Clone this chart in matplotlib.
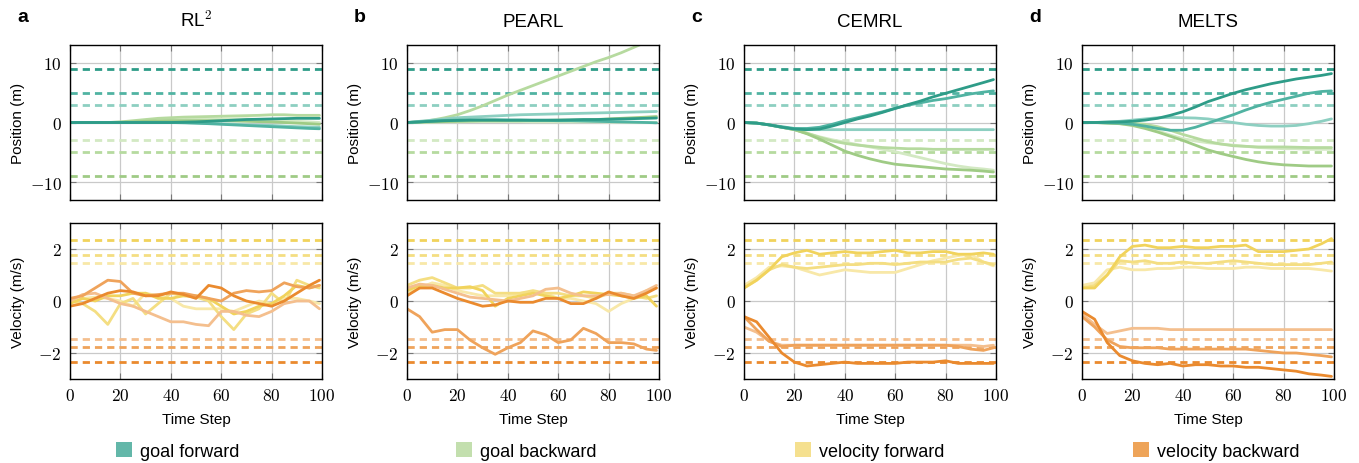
import matplotlib
matplotlib.use('Agg')
import matplotlib.pyplot as plt
from matplotlib.ticker import FixedLocator, FuncFormatter
from matplotlib.patches import Patch

plt.rcParams['font.family'] = ['Liberation Sans', 'DejaVu Sans']
plt.rcParams['mathtext.fontset'] = 'cm'

# ---------------- data ----------------
steps = [0, 5, 10, 15, 20, 25, 30, 35, 40, 45, 50, 55, 60, 65, 70, 75, 80, 85, 90, 95, 99]
methods = ['RL$^2$', 'PEARL', 'CEMRL', 'MELTS']
panel_letters = ['a', 'b', 'c', 'd']

goal_fwd_targets = [9, 5, 3]
goal_bwd_targets = [-9, -5, -3]
vel_fwd_targets = [2.36, 1.77, 1.47]
vel_bwd_targets = [-2.36, -1.77, -1.47]

# position curves (dark, medium, light)
rl2_goal_fwd = [
    [0, 0, 0, 0, 0, 0, 0, 0, 0, 0.05, 0.1, 0.2, 0.3, 0.4, 0.5, 0.55, 0.6, 0.65, 0.7, 0.7, 0.7],
    [0, 0, 0, 0, 0, 0, 0, 0, 0, -0.05, -0.1, -0.2, -0.3, -0.4, -0.5, -0.6, -0.7, -0.8, -0.9, -1.0, -1.05],
    [0, 0, 0, 0, 0, 0, 0, 0, 0, 0, -0.1, -0.15, -0.2, -0.3, -0.4, -0.45, -0.5, -0.6, -0.7, -0.75, -0.8],
]
rl2_goal_bwd = [
    [0, 0, 0, 0, 0.05, 0.1, 0.2, 0.25, 0.3, 0.3, 0.3, 0.3, 0.3, 0.25, 0.2, 0.15, 0.1, 0.0, -0.1, -0.2, -0.3],
    [0, 0, 0, 0, 0.1, 0.3, 0.5, 0.7, 0.8, 0.9, 0.95, 1.0, 1.05, 1.1, 1.15, 1.2, 1.3, 1.3, 1.2, 1.2, 1.2],
    [0, 0, 0, 0, 0, 0.1, 0.2, 0.3, 0.4, 0.5, 0.6, 0.6, 0.6, 0.6, 0.6, 0.5, 0.4, 0.3, 0.2, 0.1, 0.0],
]
pearl_goal_fwd = [
    [0, 0.1, 0.2, 0.3, 0.35, 0.4, 0.4, 0.4, 0.4, 0.4, 0.4, 0.4, 0.4, 0.45, 0.5, 0.5, 0.55, 0.6, 0.65, 0.7, 0.75],
    [0, 0.1, 0.25, 0.35, 0.4, 0.45, 0.45, 0.45, 0.4, 0.4, 0.35, 0.35, 0.3, 0.3, 0.25, 0.2, 0.15, 0.1, 0.05, 0.0, -0.05],
    [0, 0.2, 0.4, 0.6, 0.8, 0.9, 1.0, 1.1, 1.2, 1.3, 1.35, 1.4, 1.45, 1.5, 1.55, 1.6, 1.65, 1.7, 1.75, 1.8, 1.85],
]
pearl_goal_bwd = [
    [0, 0.05, 0.1, 0.15, 0.2, 0.25, 0.3, 0.3, 0.3, 0.3, 0.35, 0.35, 0.4, 0.4, 0.45, 0.5, 0.6, 0.7, 0.8, 0.9, 1.0],
    [0, 0.1, 0.4, 0.8, 1.3, 2.0, 2.8, 3.7, 4.6, 5.4, 6.2, 7.0, 7.8, 8.6, 9.4, 10.2, 10.9, 11.7, 12.6, 13.5, 14.4],
    [0, 0, 0.05, 0.1, 0.1, 0.15, 0.15, 0.15, 0.15, 0.15, 0.1, 0.1, 0.1, 0.1, 0.1, 0.1, 0.05, 0.05, 0, 0, 0],
]
cemrl_goal_fwd = [
    [0, -0.1, -0.4, -0.8, -1.1, -1.2, -1.1, -0.6, 0.0, 0.6, 1.1, 1.7, 2.35, 3.0, 3.6, 4.3, 4.9, 5.5, 6.1, 6.7, 7.2],
    [0, -0.1, -0.4, -0.7, -1.0, -1.0, -0.8, -0.3, 0.3, 0.8, 1.3, 1.8, 2.4, 2.9, 3.3, 3.7, 4.0, 4.4, 4.8, 5.1, 5.3],
    [0, -0.1, -0.4, -0.8, -1.1, -1.2, -1.2, -1.2, -1.2, -1.2, -1.2, -1.2, -1.2, -1.2, -1.2, -1.2, -1.2, -1.2, -1.2, -1.2, -1.2],
]
cemrl_goal_bwd = [
    [0, -0.1, -0.4, -0.8, -1.2, -1.9, -2.8, -3.8, -4.8, -5.5, -6.1, -6.6, -7.0, -7.2, -7.4, -7.6, -7.8, -7.9, -8.0, -8.15, -8.3],
    [0, -0.1, -0.4, -0.8, -1.2, -1.8, -2.5, -3.1, -3.5, -3.8, -4.0, -4.2, -4.3, -4.4, -4.4, -4.5, -4.5, -4.5, -4.5, -4.5, -4.5],
    [0, -0.1, -0.4, -0.8, -1.2, -1.8, -2.4, -2.9, -3.3, -3.7, -4.1, -4.5, -4.9, -5.4, -5.9, -6.4, -6.9, -7.3, -7.6, -7.8, -8.0],
]
melts_goal_fwd = [
    [0, 0, 0.05, 0.1, 0.2, 0.4, 0.7, 1.2, 1.8, 2.6, 3.5, 4.2, 4.9, 5.5, 6.0, 6.5, 6.9, 7.3, 7.6, 7.9, 8.2],
    [0, 0, -0.05, -0.1, -0.3, -0.6, -1.0, -1.3, -1.3, -0.8, -0.1, 0.6, 1.3, 2.1, 2.8, 3.4, 3.9, 4.4, 4.9, 5.2, 5.3],
    [0, 0, 0.1, 0.2, 0.4, 0.6, 0.8, 0.85, 0.8, 0.75, 0.6, 0.3, 0.0, -0.3, -0.5, -0.6, -0.6, -0.5, -0.2, 0.2, 0.6],
]
melts_goal_bwd = [
    [0, 0, -0.1, -0.2, -0.5, -1.0, -1.6, -2.3, -3.0, -3.8, -4.6, -5.2, -5.7, -6.2, -6.6, -6.9, -7.1, -7.2, -7.3, -7.3, -7.3],
    [0, 0, 0, 0, -0.1, -0.3, -0.7, -1.3, -2.0, -2.6, -3.2, -3.6, -3.9, -4.0, -4.1, -4.1, -4.1, -4.15, -4.2, -4.2, -4.2],
    [0, 0, -0.1, -0.2, -0.4, -0.8, -1.4, -2.1, -2.7, -3.1, -3.4, -3.6, -3.8, -4.0, -4.2, -4.3, -4.4, -4.4, -4.5, -4.5, -4.5],
]

# velocity curves (dark, medium, light)
rl2_vel_fwd = [
    [-0.1, 0.1, 0.0, 0.2, 0.2, 0.3, 0.3, 0.1, 0.1, 0.2, 0.2, 0.1, -0.2, -0.5, -0.4, -0.2, -0.1, 0.2, 0.6, 0.5, 0.6],
    [0.0, -0.1, -0.4, -0.9, -0.1, 0.1, -0.5, -0.1, 0.3, 0.2, 0.15, 0.0, -0.6, -1.1, -0.5, -0.3, 0.3, -0.1, 0.8, 0.6, 0.5],
    [0.0, 0.1, 0.15, 0.1, 0.0, -0.2, 0.3, 0.2, 0.1, -0.2, -0.3, -0.3, -0.3, -0.4, -0.2, 0.0, -0.1, 0.1, 0.1, 0.0, -0.1],
]
rl2_vel_bwd = [
    [-0.2, -0.1, 0.1, 0.3, 0.4, 0.35, 0.2, 0.2, 0.35, 0.25, 0.1, 0.6, 0.5, 0.2, 0.0, -0.1, -0.2, 0.0, 0.3, 0.6, 0.8],
    [0.1, 0.2, 0.5, 0.8, 0.75, 0.3, 0.2, 0.25, 0.3, 0.3, 0.2, 0.1, 0.0, 0.3, 0.4, 0.35, 0.4, 0.7, 0.55, 0.5, 0.6],
    [0.0, 0.25, 0.3, 0.1, -0.1, -0.2, -0.4, -0.6, -0.8, -0.8, -0.9, -0.95, -0.4, -0.4, -0.55, -0.6, -0.4, -0.1, 0.0, 0.0, -0.3],
]
pearl_vel_fwd = [
    [0.4, 0.6, 0.6, 0.5, 0.5, 0.55, 0.4, -0.2, 0.1, 0.2, 0.3, 0.2, 0.1, 0.2, 0.35, 0.3, 0.25, 0.2, 0.1, 0.2, -0.2],
    [0.6, 0.8, 0.9, 0.7, 0.5, 0.5, 0.6, 0.3, 0.3, 0.3, 0.4, 0.3, 0.3, 0.2, 0.2, 0.1, 0.3, 0.3, 0.2, 0.1, 0.2],
    [0.3, 0.5, 0.7, 0.6, 0.4, 0.3, 0.2, 0.2, 0.2, 0.3, 0.35, 0.3, 0.1, 0.1, 0.0, -0.1, -0.4, -0.1, 0.1, 0.4, 0.5],
]
pearl_vel_bwd = [
    [0.2, 0.5, 0.5, 0.3, 0.1, -0.05, -0.2, -0.15, 0.0, -0.05, -0.05, 0.1, 0.1, -0.1, -0.1, 0.1, 0.35, 0.2, 0.1, 0.3, 0.5],
    [-0.3, -0.6, -1.2, -1.1, -1.1, -1.5, -1.8, -2.05, -1.8, -1.6, -1.15, -1.3, -1.6, -1.5, -1.05, -1.25, -1.6, -1.6, -1.65, -1.85, -1.9],
    [0.5, 0.65, 0.6, 0.45, 0.3, 0.15, 0.1, 0.05, 0.0, 0.1, 0.2, 0.45, 0.5, 0.3, 0.2, 0.2, 0.25, 0.3, 0.2, 0.4, 0.6],
]
cemrl_vel_fwd = [
    [0.5, 0.8, 1.2, 1.7, 1.85, 1.95, 1.8, 1.85, 1.9, 1.85, 1.85, 1.9, 1.95, 1.85, 1.85, 1.9, 1.9, 1.8, 1.8, 1.85, 1.8],
    [0.5, 0.8, 1.2, 1.4, 1.3, 1.25, 1.3, 1.35, 1.4, 1.4, 1.45, 1.45, 1.4, 1.45, 1.5, 1.5, 1.5, 1.6, 1.65, 1.5, 1.4],
    [0.6, 0.9, 1.3, 1.35, 1.3, 1.15, 1.0, 1.1, 1.2, 1.15, 1.1, 1.1, 1.1, 1.25, 1.4, 1.55, 1.65, 1.75, 1.8, 1.5, 1.35],
]
cemrl_vel_bwd = [
    [-0.6, -0.8, -1.4, -2.0, -2.35, -2.5, -2.45, -2.4, -2.35, -2.4, -2.4, -2.4, -2.4, -2.35, -2.35, -2.35, -2.3, -2.4, -2.4, -2.4, -2.4],
    [-0.6, -1.1, -1.55, -1.75, -1.7, -1.7, -1.7, -1.7, -1.7, -1.7, -1.7, -1.7, -1.7, -1.7, -1.7, -1.7, -1.7, -1.75, -1.85, -1.9, -1.8],
    [-1.0, -1.2, -1.55, -1.7, -1.7, -1.7, -1.7, -1.7, -1.7, -1.7, -1.7, -1.7, -1.7, -1.7, -1.7, -1.7, -1.7, -1.7, -1.7, -1.75, -1.7],
]
melts_vel_fwd = [
    [0.5, 0.5, 1.0, 1.7, 2.1, 2.15, 2.05, 2.05, 2.1, 2.05, 2.05, 2.1, 2.1, 2.15, 1.9, 1.9, 1.9, 1.95, 2.0, 2.2, 2.4],
    [0.5, 0.6, 1.0, 1.55, 1.5, 1.55, 1.45, 1.45, 1.5, 1.45, 1.45, 1.5, 1.55, 1.5, 1.45, 1.4, 1.4, 1.4, 1.4, 1.45, 1.5],
    [0.6, 0.7, 1.2, 1.3, 1.2, 1.2, 1.25, 1.25, 1.3, 1.3, 1.25, 1.25, 1.25, 1.3, 1.3, 1.25, 1.25, 1.25, 1.25, 1.2, 1.15],
]
melts_vel_bwd = [
    [-0.4, -0.7, -1.6, -2.1, -2.3, -2.4, -2.45, -2.4, -2.5, -2.45, -2.45, -2.5, -2.5, -2.55, -2.55, -2.6, -2.65, -2.7, -2.8, -2.85, -2.9],
    [-0.6, -1.0, -1.5, -1.75, -1.8, -1.8, -1.8, -1.85, -1.85, -1.85, -1.85, -1.85, -1.85, -1.85, -1.9, -1.95, -2.0, -2.0, -2.05, -2.1, -2.15],
    [-0.5, -0.9, -1.25, -1.15, -1.05, -1.05, -1.05, -1.1, -1.1, -1.1, -1.1, -1.1, -1.1, -1.1, -1.1, -1.1, -1.1, -1.1, -1.1, -1.1, -1.1],
]

pos_goal_fwd = [rl2_goal_fwd, pearl_goal_fwd, cemrl_goal_fwd, melts_goal_fwd]
pos_goal_bwd = [rl2_goal_bwd, pearl_goal_bwd, cemrl_goal_bwd, melts_goal_bwd]
vel_fwd = [rl2_vel_fwd, pearl_vel_fwd, cemrl_vel_fwd, melts_vel_fwd]
vel_bwd = [rl2_vel_bwd, pearl_vel_bwd, cemrl_vel_bwd, melts_vel_bwd]

legend_labels = ['goal forward', 'goal backward', 'velocity forward', 'velocity backward']

# ---------------- style ----------------
teal = ['#2e9c88', '#50b3a2', '#8dcfc1']
green = ['#9fcb85', '#b6da9f', '#d3e9c3']
yellow = ['#f1d35c', '#f4de82', '#f8e8a8']
orange = ['#ea8a2e', '#efa35b', '#f4bf8e']
legend_colors = ['#63b7a9', '#c3dfae', '#f5e08f', '#eea459']

W, H = 1359, 464
lefts_px = [70, 407, 744, 1082]
ax_w = 252

fig = plt.figure(figsize=(W / 100, H / 100), dpi=100)

def fmt(v, pos):
    return r'$%d$' % int(round(v))

def style(ax, yticks):
    ax.set_xlim(0, 100)
    ax.xaxis.set_major_locator(FixedLocator([0, 20, 40, 60, 80, 100]))
    ax.yaxis.set_major_locator(FixedLocator(yticks))
    ax.yaxis.set_major_formatter(FuncFormatter(fmt))
    ax.xaxis.set_major_formatter(FuncFormatter(fmt))
    ax.grid(True, color='#c9c9c9', lw=0.9)
    ax.set_axisbelow(True)
    ax.tick_params(direction='in', length=4, width=0.8, color='#777777',
                   top=True, right=True, labelsize=12.5, pad=6)
    for s in ax.spines.values():
        s.set_linewidth(1.0)
        s.set_color('black')

dash = (0, (2.6, 1.8))
for i in range(4):
    x0 = lefts_px[i] / W
    axp = fig.add_axes([x0, (H - 201) / H, ax_w / W, 155 / H])
    axv = fig.add_axes([x0, (H - 380) / H, ax_w / W, 156 / H])

    # position panel
    axp.set_ylim(-13, 13)
    style(axp, [-10, 0, 10])
    for k in range(3):
        axp.axhline(goal_fwd_targets[k], color=teal[k], lw=2.0, ls=dash)
        axp.axhline(goal_bwd_targets[k], color=green[k], lw=2.0, ls=dash)
    for k in [2, 1, 0]:
        axp.plot(steps, pos_goal_bwd[i][k], color=green[k], lw=2.0, solid_capstyle='round')
    for k in [2, 1, 0]:
        axp.plot(steps, pos_goal_fwd[i][k], color=teal[k], lw=2.0, solid_capstyle='round')
    axp.tick_params(labelbottom=False)
    axp.set_ylabel('Position (m)', fontsize=11)
    axp.yaxis.set_label_coords(-45 / ax_w, 0.5)
    axp.set_title(methods[i], fontsize=13.5, pad=14)

    # velocity panel
    axv.set_ylim(-3, 3)
    style(axv, [-2, 0, 2])
    for k in range(3):
        axv.axhline(vel_fwd_targets[k], color=yellow[k], lw=2.0, ls=dash)
        axv.axhline(vel_bwd_targets[k], color=orange[k], lw=2.0, ls=dash)
    for k in [2, 1, 0]:
        axv.plot(steps, vel_fwd[i][k], color=yellow[k], lw=2.0, solid_capstyle='round')
    for k in [2, 1, 0]:
        axv.plot(steps, vel_bwd[i][k], color=orange[k], lw=2.0, solid_capstyle='round')
    axv.set_ylabel('Velocity (m/s)', fontsize=11)
    axv.yaxis.set_label_coords(-45 / ax_w, 0.5)
    axv.set_xlabel('Time Step', fontsize=11, labelpad=6)

    fig.text((lefts_px[i] - 53) / W, (H - 22) / H, panel_letters[i],
             fontsize=14, fontweight='bold', ha='left', va='baseline')

legend_x_px = [116, 456, 795, 1133]
for j in range(4):
    fig.legend(handles=[Patch(facecolor=legend_colors[j], edgecolor='none', label=legend_labels[j])],
               loc='center left', bbox_to_anchor=(legend_x_px[j] / W, (H - 452) / H),
               frameon=False, fontsize=13, handlelength=0.9, handleheight=0.9,
               handletextpad=0.45, borderpad=0, borderaxespad=0)

fig.savefig('out.png', dpi=100)
